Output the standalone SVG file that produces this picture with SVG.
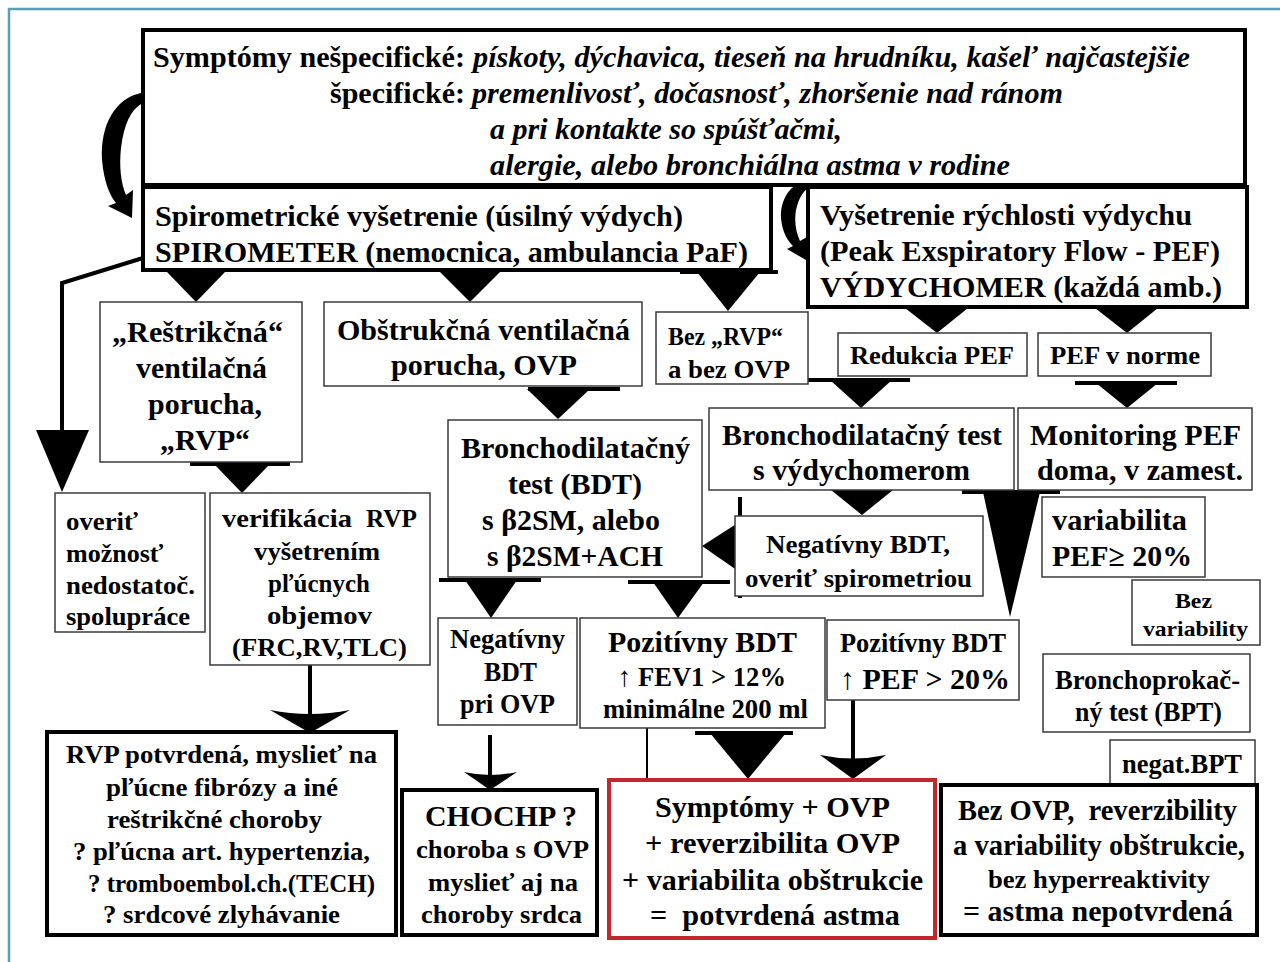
<svg xmlns="http://www.w3.org/2000/svg" width="1280" height="962" viewBox="0 0 1280 962">
<style>
text{font-family:"Liberation Serif",Tinos,"Times New Roman",Times,serif;font-weight:bold;fill:#000;}
.i{font-style:italic;}
.f28{font-size:30px;}
.f26{font-size:28px;}
.f24{font-size:26px;}
.f20{font-size:22px;}
.thin{fill:#fff;stroke:#3a3a3a;stroke-width:1.5;}
.thick{fill:#fff;stroke:#000;stroke-width:4;}
.red{fill:#fff;stroke:#c1272d;stroke-width:4;}
.ln{fill:none;stroke:#000;stroke-width:4;}
.ln2{fill:none;stroke:#000;stroke-width:2;}
.bar{fill:none;stroke:#000;stroke-width:4;}
.tri{fill:#000;stroke:none;}
</style>
<rect x="0" y="0" width="1280" height="962" fill="#fff"/>
<rect x="9" y="9" width="1300" height="980" fill="none" stroke="#5c9fb0" stroke-width="2.5"/>

<g id="connectors">
  <path class="tri" d="M141,93 C116,98 100,124 102,160 C104,182 110,196 116,203 L108,206 L132,218 L133,190 L126,195 C121,184 119,166 121,148 C124,124 131,110 141,104 Z"/>
  <path class="tri" d="M810,179 C792,182 780,198 781,218 C782,232 788,241 793,246 L787,249 L806,260 L807,237 L800,241 C796,232 794,222 796,210 C799,197 804,190 810,187 Z"/>
  <polyline class="ln" points="143,258 62,283 62,434"/>
  <polygon class="tri" points="36,430 89,430 62,492"/>
  <polygon class="tri" points="167,272 225,272 196,302"/>
  <polygon class="tri" points="440,272 500,272 470,302"/>
  <line class="bar" x1="680" y1="272" x2="778" y2="272"/>
  <polygon class="tri" points="697,272 760,272 728,311"/>
  <polygon class="tri" points="905,308 968,308 937,333"/>
  <polygon class="tri" points="1095,308 1158,308 1127,333"/>
  <line class="bar" x1="808" y1="380" x2="910" y2="380"/>
  <polygon class="tri" points="830,380 892,380 861,408"/>
  <line class="bar" x1="1075" y1="383" x2="1177" y2="383"/>
  <polygon class="tri" points="1096,383 1158,383 1127,408"/>
  <line class="bar" x1="528" y1="389" x2="620" y2="389"/>
  <polygon class="tri" points="527,389 590,389 558,419"/>
  <line class="bar" x1="190" y1="464" x2="290" y2="464"/>
  <polygon class="tri" points="214,464 270,464 242,493"/>
  <polygon class="tri" points="831,490 893,490 862,515"/>
  <line class="bar" x1="962" y1="492" x2="1060" y2="492"/>
  <polygon class="tri" points="983,492 1040,492 1010,617"/>
  <line class="ln" x1="740" y1="497" x2="740" y2="598"/>
  <polygon class="tri" points="741,521 741,573 702,546"/>
  <line class="bar" x1="439" y1="580" x2="541" y2="580"/>
  <polygon class="tri" points="465,580 517,580 491,618"/>
  <line class="bar" x1="628" y1="582" x2="730" y2="582"/>
  <polygon class="tri" points="653,582 704,582 678,618"/>
  <line class="ln" x1="310" y1="665" x2="310" y2="716"/>
  <path class="tri" d="M270,710 Q310,718 350,710 L310,733 Z"/>
  <line class="ln" x1="490" y1="735" x2="490" y2="775"/>
  <path class="tri" d="M464,772 Q490,778 517,772 L490,790 Z"/>
  <line class="ln2" x1="647" y1="728" x2="647" y2="780"/>
  <line class="bar" x1="695" y1="733" x2="793" y2="733"/>
  <polygon class="tri" points="710,733 786,733 748,779"/>
  <line class="ln" x1="853" y1="700" x2="853" y2="760"/>
  <path class="tri" d="M820,755 Q853,762 886,755 L853,779 Z"/>
</g>

<g id="top">
  <rect class="thick" x="143" y="30" width="1102" height="155"/>
  <text class="f28" x="153" y="67" textLength="312" lengthAdjust="spacingAndGlyphs">Symptómy nešpecifické:</text>
  <text class="f28 i" x="473" y="67" textLength="717" lengthAdjust="spacingAndGlyphs">pískoty, dýchavica, tieseň na hrudníku, kašeľ najčastejšie</text>
  <text class="f28" x="330" y="103" textLength="135" lengthAdjust="spacingAndGlyphs">špecifické:</text>
  <text class="f28 i" x="472" y="103" textLength="591" lengthAdjust="spacingAndGlyphs">premenlivosť, dočasnosť, zhoršenie nad ránom</text>
  <text class="f28 i" x="490" y="139" textLength="352" lengthAdjust="spacingAndGlyphs">a pri kontakte so spúšťačmi,</text>
  <text class="f28 i" x="490" y="175" textLength="520" lengthAdjust="spacingAndGlyphs">alergie, alebo bronchiálna astma v rodine</text>
</g>

<g id="spirometer">
  <rect class="thick" x="143" y="187" width="628" height="83"/>
  <text class="f28" x="155" y="226" textLength="528" lengthAdjust="spacingAndGlyphs">Spirometrické vyšetrenie (úsilný výdych)</text>
  <text class="f28" x="155" y="262" textLength="593" lengthAdjust="spacingAndGlyphs">SPIROMETER (nemocnica, ambulancia PaF)</text>
</g>

<g id="pef">
  <rect class="thick" x="808" y="187" width="439" height="120"/>
  <text class="f28" x="820" y="225" textLength="372" lengthAdjust="spacingAndGlyphs">Vyšetrenie rýchlosti výdychu</text>
  <text class="f28" x="820" y="261" textLength="400" lengthAdjust="spacingAndGlyphs">(Peak Exspiratory Flow - PEF)</text>
  <text class="f28" x="820" y="297" textLength="402" lengthAdjust="spacingAndGlyphs">VÝDYCHOMER (každá amb.)</text>
</g>

<g id="restrikcna">
  <rect class="thin" x="100" y="302" width="202" height="160"/>
  <text class="f28" x="112" y="342" textLength="171" lengthAdjust="spacingAndGlyphs">„Reštrikčná“</text>
  <text class="f28" x="136" y="378" textLength="131" lengthAdjust="spacingAndGlyphs">ventilačná</text>
  <text class="f28" x="148" y="414" textLength="114" lengthAdjust="spacingAndGlyphs">porucha,</text>
  <text class="f28" x="160" y="450" textLength="90" lengthAdjust="spacingAndGlyphs">„RVP“</text>
</g>

<g id="obstrukcna">
  <rect class="thin" x="324" y="302" width="318" height="84"/>
  <text class="f28" x="337" y="340" textLength="293" lengthAdjust="spacingAndGlyphs">Obštrukčná ventilačná</text>
  <text class="f28" x="391" y="375" textLength="186" lengthAdjust="spacingAndGlyphs">porucha, OVP</text>
</g>

<g id="bezrvp">
  <rect class="thin" x="656" y="312" width="152" height="72"/>
  <text class="f24" x="668" y="345" textLength="115" lengthAdjust="spacingAndGlyphs">Bez „RVP“</text>
  <text class="f24" x="668" y="378" textLength="122" lengthAdjust="spacingAndGlyphs">a bez OVP</text>
</g>

<g id="redukcia">
  <rect class="thin" x="838" y="333" width="189" height="43"/>
  <text class="f24" x="850" y="364" textLength="164" lengthAdjust="spacingAndGlyphs">Redukcia PEF</text>
</g>

<g id="norme">
  <rect class="thin" x="1038" y="333" width="173" height="43"/>
  <text class="f24" x="1050" y="364" textLength="150" lengthAdjust="spacingAndGlyphs">PEF v norme</text>
</g>

<g id="bdt">
  <rect class="thin" x="448" y="420" width="254" height="157"/>
  <text class="f28" x="461" y="458" textLength="229" lengthAdjust="spacingAndGlyphs">Bronchodilatačný</text>
  <text class="f28" x="508" y="494" textLength="134" lengthAdjust="spacingAndGlyphs">test (BDT)</text>
  <text class="f28" x="482" y="530" textLength="178" lengthAdjust="spacingAndGlyphs">s β2SM, alebo</text>
  <text class="f28" x="487" y="566" textLength="176" lengthAdjust="spacingAndGlyphs">s β2SM+ACH</text>
</g>

<g id="bdtpef">
  <rect class="thin" x="709" y="408" width="305" height="82"/>
  <text class="f28" x="722" y="445" textLength="280" lengthAdjust="spacingAndGlyphs">Bronchodilatačný test</text>
  <text class="f28" x="753" y="480" textLength="217" lengthAdjust="spacingAndGlyphs">s výdychomerom</text>
</g>

<g id="monitoring">
  <rect class="thin" x="1018" y="408" width="234" height="82"/>
  <text class="f28" x="1030" y="445" textLength="211" lengthAdjust="spacingAndGlyphs">Monitoring PEF</text>
  <text class="f28" x="1037" y="480" textLength="206" lengthAdjust="spacingAndGlyphs">doma, v zamest.</text>
</g>

<g id="overit">
  <rect class="thin" x="55" y="493" width="150" height="139"/>
  <text class="f24" x="66" y="530" textLength="72" lengthAdjust="spacingAndGlyphs">overiť</text>
  <text class="f24" x="66" y="562">možnosť</text>
  <text class="f24" x="66" y="594" textLength="129" lengthAdjust="spacingAndGlyphs">nedostatoč.</text>
  <text class="f24" x="66" y="625" textLength="124" lengthAdjust="spacingAndGlyphs">spolupráce</text>
</g>

<g id="verifikacia">
  <rect class="thin" x="210" y="493" width="220" height="172"/>
  <text class="f24" x="222" y="527" textLength="130" lengthAdjust="spacingAndGlyphs">verifikácia</text>
  <text class="f24" x="366" y="527" textLength="51" lengthAdjust="spacingAndGlyphs">RVP</text>
  <text class="f24" x="254" y="560" textLength="126" lengthAdjust="spacingAndGlyphs">vyšetrením</text>
  <text class="f24" x="268" y="592" textLength="102" lengthAdjust="spacingAndGlyphs">pľúcnych</text>
  <text class="f24" x="267" y="624" textLength="105" lengthAdjust="spacingAndGlyphs">objemov</text>
  <text class="f24" x="232" y="656" textLength="175" lengthAdjust="spacingAndGlyphs">(FRC,RV,TLC)</text>
</g>

<g id="negspiro">
  <rect class="thin" x="735" y="516" width="248" height="80"/>
  <text class="f24" x="766" y="553" textLength="184" lengthAdjust="spacingAndGlyphs">Negatívny BDT,</text>
  <text class="f24" x="745" y="587" textLength="227" lengthAdjust="spacingAndGlyphs">overiť spirometriou</text>
</g>

<g id="variabilita">
  <rect class="thin" x="1042" y="497" width="163" height="80"/>
  <text class="f28" x="1052" y="530" textLength="135" lengthAdjust="spacingAndGlyphs">variabilita</text>
  <text class="f28" x="1052" y="566" textLength="140" lengthAdjust="spacingAndGlyphs">PEF≥ 20%</text>
</g>

<g id="bezvar">
  <rect class="thin" x="1132" y="580" width="128" height="65"/>
  <text class="f20" x="1175" y="608" textLength="37" lengthAdjust="spacingAndGlyphs">Bez</text>
  <text class="f20" x="1143" y="636" textLength="105" lengthAdjust="spacingAndGlyphs">variability</text>
</g>

<g id="bpt">
  <rect class="thin" x="1043" y="654" width="207" height="78"/>
  <text class="f26" x="1055" y="689" textLength="185" lengthAdjust="spacingAndGlyphs">Bronchoprokač-</text>
  <text class="f26" x="1075" y="721" textLength="147" lengthAdjust="spacingAndGlyphs">ný test (BPT)</text>
</g>

<g id="negbpt">
  <rect class="thin" x="1110" y="740" width="145" height="45"/>
  <text class="f26" x="1122" y="773" textLength="120" lengthAdjust="spacingAndGlyphs">negat.BPT</text>
</g>

<g id="negovp">
  <rect class="thin" x="438" y="618" width="139" height="107"/>
  <text class="f26" x="450" y="648" textLength="115" lengthAdjust="spacingAndGlyphs">Negatívny</text>
  <text class="f26" x="484" y="681" textLength="53" lengthAdjust="spacingAndGlyphs">BDT</text>
  <text class="f26" x="460" y="713" textLength="95" lengthAdjust="spacingAndGlyphs">pri OVP</text>
</g>

<g id="pozfev">
  <rect class="thin" x="580" y="618" width="245" height="110"/>
  <text class="f28" x="608" y="652" textLength="189" lengthAdjust="spacingAndGlyphs">Pozitívny BDT</text>
  <text class="f26" x="618" y="686" textLength="168" lengthAdjust="spacingAndGlyphs">↑ FEV1 &gt; 12%</text>
  <text class="f26" x="603" y="718" textLength="205" lengthAdjust="spacingAndGlyphs">minimálne 200 ml</text>
</g>

<g id="pozpef">
  <rect class="thin" x="827" y="620" width="192" height="80"/>
  <text class="f26" x="840" y="652" textLength="166" lengthAdjust="spacingAndGlyphs">Pozitívny BDT</text>
  <text class="f28" x="840" y="689" textLength="170" lengthAdjust="spacingAndGlyphs">↑ PEF &gt; 20%</text>
</g>

<g id="rvppotvrdena">
  <rect class="thick" x="47" y="732" width="349" height="203"/>
  <text class="f24" x="66" y="763" textLength="311" lengthAdjust="spacingAndGlyphs">RVP potvrdená, myslieť na</text>
  <text class="f24" x="106" y="796" textLength="232" lengthAdjust="spacingAndGlyphs">pľúcne fibrózy a iné</text>
  <text class="f24" x="107" y="828" textLength="215" lengthAdjust="spacingAndGlyphs">reštrikčné choroby</text>
  <text class="f24" x="73" y="860" textLength="297" lengthAdjust="spacingAndGlyphs">? pľúcna art. hypertenzia,</text>
  <text class="f24" x="88" y="892" textLength="287" lengthAdjust="spacingAndGlyphs">? tromboembol.ch.(TECH)</text>
  <text class="f24" x="103" y="923" textLength="237" lengthAdjust="spacingAndGlyphs">? srdcové zlyhávanie</text>
</g>

<g id="chochp">
  <rect class="thick" x="402" y="790" width="195" height="145"/>
  <text class="f28" x="425" y="826" textLength="152" lengthAdjust="spacingAndGlyphs">CHOCHP ?</text>
  <text class="f24" x="416" y="858" textLength="173" lengthAdjust="spacingAndGlyphs">choroba s OVP</text>
  <text class="f24" x="428" y="891" textLength="150" lengthAdjust="spacingAndGlyphs">myslieť aj na</text>
  <text class="f24" x="421" y="923" textLength="161" lengthAdjust="spacingAndGlyphs">choroby srdca</text>
</g>

<g id="astma">
  <rect class="red" x="609" y="780" width="326" height="158"/>
  <text class="f28" x="655" y="817" textLength="235" lengthAdjust="spacingAndGlyphs">Symptómy + OVP</text>
  <text class="f28" x="645" y="853" textLength="255" lengthAdjust="spacingAndGlyphs">+ reverzibilita OVP</text>
  <text class="f28" x="622" y="890" textLength="301" lengthAdjust="spacingAndGlyphs">+ variabilita obštrukcie</text>
  <text class="f28" x="650" y="925" textLength="250" lengthAdjust="spacingAndGlyphs" xml:space="preserve">=  potvrdená astma</text>
</g>

<g id="nepotvrdena">
  <rect class="thick" x="941" y="785" width="316" height="150"/>
  <text class="f28" x="958" y="820" textLength="279" lengthAdjust="spacingAndGlyphs" xml:space="preserve">Bez OVP,  reverzibility</text>
  <text class="f28" x="953" y="855" textLength="292" lengthAdjust="spacingAndGlyphs">a variability obštrukcie,</text>
  <text class="f24" x="988" y="888" textLength="222" lengthAdjust="spacingAndGlyphs">bez hyperreaktivity</text>
  <text class="f28" x="963" y="921" textLength="270" lengthAdjust="spacingAndGlyphs">= astma nepotvrdená</text>
</g>
</svg>
